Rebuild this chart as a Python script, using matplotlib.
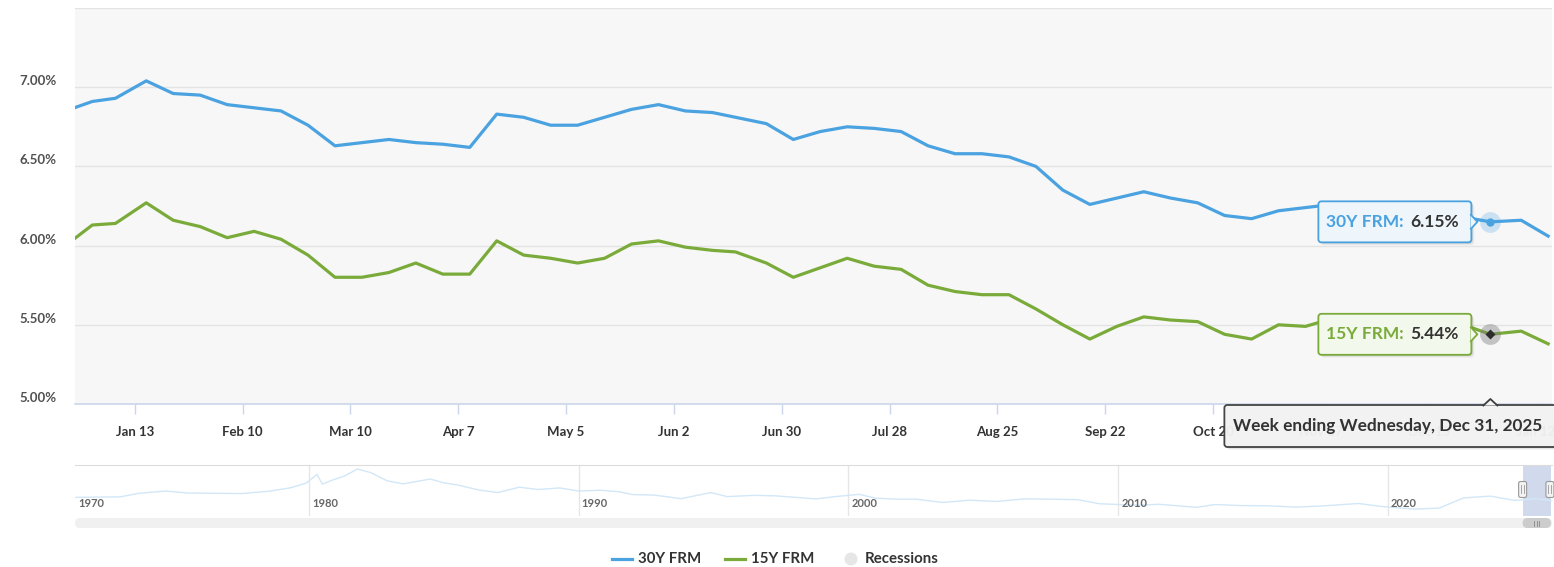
import numpy as np
import pandas as pd
import matplotlib
matplotlib.use("Agg")
import matplotlib.pyplot as plt
import matplotlib.dates as mdates
import matplotlib.transforms as mtransforms
from matplotlib.patches import FancyBboxPatch, Polygon, Circle
from matplotlib.lines import Line2D

plt.rcParams["font.family"] = ["Lato", "DejaVu Sans"]

# =========================
# Data (weekly PMMS rates, %)
# =========================
week_dates = pd.to_datetime([
    "2024-12-26",
    "2025-01-02", "2025-01-08", "2025-01-16", "2025-01-23", "2025-01-30",
    "2025-02-06", "2025-02-13", "2025-02-20", "2025-02-27",
    "2025-03-06", "2025-03-13", "2025-03-20", "2025-03-27",
    "2025-04-03", "2025-04-10", "2025-04-17", "2025-04-24",
    "2025-05-01", "2025-05-08", "2025-05-15", "2025-05-22", "2025-05-29",
    "2025-06-05", "2025-06-12", "2025-06-18", "2025-06-26",
    "2025-07-03", "2025-07-10", "2025-07-17", "2025-07-24", "2025-07-31",
    "2025-08-07", "2025-08-14", "2025-08-21", "2025-08-28",
    "2025-09-04", "2025-09-11", "2025-09-18", "2025-09-25",
    "2025-10-02", "2025-10-09", "2025-10-16", "2025-10-23", "2025-10-30",
    "2025-11-06", "2025-11-13", "2025-11-20", "2025-11-26",
    "2025-12-04", "2025-12-11", "2025-12-18", "2025-12-24", "2025-12-31",
    "2026-01-08", "2026-01-15",
])

rate_30y = [
    6.85,
    6.91, 6.93, 7.04, 6.96, 6.95,
    6.89, 6.87, 6.85, 6.76,
    6.63, 6.65, 6.67, 6.65,
    6.64, 6.62, 6.83, 6.81,
    6.76, 6.76, 6.81, 6.86, 6.89,
    6.85, 6.84, 6.81, 6.77,
    6.67, 6.72, 6.75, 6.74, 6.72,
    6.63, 6.58, 6.58, 6.56,
    6.50, 6.35, 6.26, 6.30,
    6.34, 6.30, 6.27, 6.19, 6.17,
    6.22, 6.24, 6.26, 6.23,
    6.19, 6.22, 6.21, 6.18, 6.15,
    6.16, 6.06,
]

rate_15y = [
    6.00,
    6.13, 6.14, 6.27, 6.16, 6.12,
    6.05, 6.09, 6.04, 5.94,
    5.80, 5.80, 5.83, 5.89,
    5.82, 5.82, 6.03, 5.94,
    5.92, 5.89, 5.92, 6.01, 6.03,
    5.99, 5.97, 5.96, 5.89,
    5.80, 5.86, 5.92, 5.87, 5.85,
    5.75, 5.71, 5.69, 5.69,
    5.60, 5.50, 5.41, 5.49,
    5.55, 5.53, 5.52, 5.44, 5.41,
    5.50, 5.49, 5.54, 5.51,
    5.44, 5.51, 5.47, 5.50, 5.44,
    5.46, 5.38,
]

tick_dates = pd.date_range("2025-01-13", periods=14, freq="28D")
y_ticks = [5.0, 5.5, 6.0, 6.5, 7.0, 7.5]
y_labels = ["5.00%", "5.50%", "6.00%", "6.50%", "7.00%", ""]

# long history of the 30Y rate for the navigator (approximate)
nav_years = [1971.3, 1972.0, 1973.0, 1973.7, 1974.7, 1975.5, 1976.5, 1977.5,
             1978.5, 1979.3, 1979.9, 1980.3, 1980.5, 1980.9, 1981.3, 1981.8,
             1982.3, 1982.9, 1983.5, 1984.5, 1985.0, 1985.5, 1986.3, 1987.0,
             1987.8, 1988.5, 1989.3, 1990.0, 1990.8, 1991.5, 1992.0, 1992.8,
             1993.8, 1994.9, 1995.5, 1996.5, 1997.3, 1998.8, 1999.5, 2000.4,
             2001.0, 2001.8, 2002.5, 2003.5, 2004.5, 2005.5, 2006.5, 2007.5,
             2008.5, 2009.3, 2010.8, 2011.5, 2012.9, 2013.6, 2014.5, 2015.5,
             2016.6, 2017.5, 2018.9, 2019.8, 2021.0, 2021.9, 2022.8, 2023.8,
             2024.7, 2025.5, 2026.04]
nav_rates = [7.3, 7.4, 7.5, 8.9, 9.8, 9.0, 8.9, 8.8,
             9.7, 11.0, 12.9, 16.3, 12.5, 14.2, 15.6, 18.4,
             17.0, 13.8, 12.6, 14.5, 13.0, 12.2, 10.2, 9.2,
             11.3, 10.4, 11.0, 9.8, 10.1, 9.5, 8.4, 8.2,
             6.8, 9.2, 7.6, 8.1, 7.9, 6.7, 7.6, 8.5,
             7.0, 6.6, 6.6, 5.3, 6.2, 5.7, 6.7, 6.6,
             6.4, 4.8, 4.2, 4.6, 3.4, 4.5, 4.1, 4.0,
             3.5, 3.9, 4.9, 3.7, 2.7, 3.1, 7.1, 7.8,
             6.1, 6.8, 6.06]
nav_decades = [1970, 1980, 1990, 2000, 2010, 2020]

tip_date = pd.Timestamp("2025-12-31")

BLUE = "#4aa2e0"
GREEN = "#7aab3a"
DARK = "#333333"

# =========================
# Figure / main axes
# =========================
W, H = 1554, 567
fig = plt.figure(figsize=(W / 100, H / 100), dpi=100)
ID = mtransforms.IdentityTransform()


def P(x, y):
    """pixel coords (top-left origin) -> display coords"""
    return x, H - y


ax = fig.add_axes([75 / W, 1 - 404 / H, 1477 / W, 396 / H])
ax.set_facecolor("#f7f7f7")
ax.plot(week_dates, rate_30y, color=BLUE, lw=2.3, solid_joinstyle="round", zorder=3)
ax.plot(week_dates, rate_15y, color=GREEN, lw=2.3, solid_joinstyle="round", zorder=3)

x_lo = pd.Timestamp("2024-12-28 12:00")
x_hi = pd.Timestamp("2026-01-16 00:00")
ax.set_xlim(x_lo, x_hi)
ax.set_ylim(5.0, 7.5)

for s in ["top", "left", "right"]:
    ax.spines[s].set_visible(False)
ax.spines["bottom"].set_color("#ccd6eb")
ax.spines["bottom"].set_linewidth(1.2)

ax.set_yticks(y_ticks)
ax.set_yticklabels(y_labels, fontsize=9.5, fontweight="bold", color="#505050")
ax.tick_params(axis="y", length=0, pad=13)
ax.grid(axis="y", color="#e3e3e3", lw=1)
ax.set_axisbelow(True)
up = mtransforms.ScaledTranslation(0, 7 / 100, fig.dpi_scale_trans)
for lbl in ax.get_yticklabels():
    lbl.set_transform(lbl.get_transform() + up)

ax.set_xticks(tick_dates)
ax.set_xticklabels([f"{d:%b} {d.day}" for d in tick_dates],
                   fontsize=9.5, fontweight="bold", color=DARK)
ax.tick_params(axis="x", length=7.5, width=1, color="#ccd6eb", pad=8)

# hover markers for the highlighted week
i_tip = list(week_dates).index(tip_date)
ax.plot([tip_date], [rate_30y[i_tip]], "o", ms=15, color=BLUE, alpha=0.25,
        mec="none", zorder=4)
ax.plot([tip_date], [rate_30y[i_tip]], "o", ms=6, color=BLUE, mec="none", zorder=5)
ax.plot([tip_date], [rate_15y[i_tip]], "o", ms=15, color="#777777", alpha=0.4,
        mec="none", zorder=4)
ax.plot([tip_date], [rate_15y[i_tip]], "D", ms=5, color="#2b2b2b", mec="none", zorder=5)

# =========================
# Navigator + scrollbar
# =========================
nav = fig.add_axes([75 / W, 1 - 516 / H, 1477 / W, 51 / H])
nav.set_facecolor("white")
nav.plot(nav_years, nav_rates, color="#d2e7f7", lw=1.0)
nav.set_xlim(1971.33, 2026.08)
nav.set_ylim(0, 20)
nav.set_xticks(nav_decades[1:])
nav.grid(axis="x", color="#e6e6e6", lw=1)
nav.tick_params(length=0, labelbottom=False, labelleft=False)
for s in ["left", "right", "bottom"]:
    nav.spines[s].set_visible(False)
nav.spines["top"].set_color("#dcdcdc")
blend = mtransforms.blended_transform_factory(nav.transData, nav.transAxes)
shift = mtransforms.ScaledTranslation(3 / 100, 0, fig.dpi_scale_trans)
for yr in nav_decades:
    nav.text(max(yr, nav.get_xlim()[0]), 0.24, str(yr), transform=blend + shift,
             fontsize=8, fontweight="bold", color="#666666", va="center", ha="left")


def frac_year(ts):
    return ts.year + (ts.dayofyear - 1) / 365.25


sel_lo, sel_hi = frac_year(x_lo), min(frac_year(x_hi), nav.get_xlim()[1])
nav.axvspan(sel_lo, sel_hi, color="#6685c2", alpha=0.3, lw=0)

fig.canvas.draw()
nav_bb = nav.get_window_extent()
hx0 = nav.transData.transform((sel_lo, 0))[0]
hx1 = nav.transData.transform((sel_hi, 0))[0]
hy = nav_bb.y0 + nav_bb.height * 0.52
for hx in [hx0, hx1 - 1]:
    fig.add_artist(FancyBboxPatch((hx - 4, hy - 8), 8, 16,
                                  boxstyle="round,pad=0,rounding_size=2",
                                  fc="#f2f2f2", ec="#999999", lw=0.8,
                                  transform=ID, zorder=6))
    for dx in (-1.5, 1.5):
        fig.add_artist(Line2D([hx + dx, hx + dx], [hy - 4, hy + 4], color="#999999",
                              lw=0.6, transform=ID, zorder=7))

# scrollbar
sx0, sy_top = P(75, 518)
fig.add_artist(FancyBboxPatch((sx0, sy_top - 10), 1477, 10,
                              boxstyle="round,pad=0,rounding_size=5",
                              fc="#f0f0f0", ec="none", transform=ID, zorder=5))
fig.add_artist(FancyBboxPatch((hx0, sy_top - 10), hx1 - hx0, 10,
                              boxstyle="round,pad=0,rounding_size=5",
                              fc="#cccccc", ec="none", transform=ID, zorder=6))
tcx = (hx0 + hx1) / 2
for dx in (-2.5, 0, 2.5):
    fig.add_artist(Line2D([tcx + dx, tcx + dx], [sy_top - 7.5, sy_top - 2.5],
                          color="#888888", lw=0.6, transform=ID, zorder=7))

# =========================
# Tooltips
# =========================
renderer = fig.canvas.get_renderer()


def callout(x0, y0, w, h, ec, fc, tip, base, zorder=8, alpha=1.0):
    # shadow
    for k, a in [(3, 0.04), (2, 0.06), (1, 0.08)]:
        fig.add_artist(FancyBboxPatch((x0 + k, y0 - k), w, h,
                                      boxstyle="round,pad=0,rounding_size=3",
                                      fc="black", ec="none", alpha=a,
                                      transform=ID, zorder=zorder - 0.5))
    fig.add_artist(FancyBboxPatch((x0, y0), w, h,
                                  boxstyle="round,pad=0,rounding_size=3",
                                  fc=fc, ec=ec, lw=1.3, alpha=alpha,
                                  transform=ID, zorder=zorder))
    tri = [base[0], tip, base[1]]
    fig.add_artist(Polygon(tri, closed=True, fc=fc, ec="none",
                           transform=ID, zorder=zorder + 0.1))
    fig.add_artist(Line2D([base[0][0], tip[0], base[1][0]],
                          [base[0][1], tip[1], base[1][1]],
                          color=ec, lw=1.3, transform=ID, zorder=zorder + 0.2))


def two_tone(x, y, first, second, c1, zorder):
    t1 = fig.text(x, y, first, transform=ID, fontsize=12.5, fontweight="bold",
                  color=c1, va="center", ha="left", zorder=zorder)
    w1 = t1.get_window_extent(renderer).width
    fig.text(x + w1 + 6, y, second, transform=ID, fontsize=12.5, fontweight="bold",
             color=DARK, va="center", ha="left", zorder=zorder)


for vals, name, col, fc in [(rate_30y, "30Y FRM:", BLUE, "#eef5fb"),
                            (rate_15y, "15Y FRM:", GREEN, "#f3f8ec")]:
    px, py = ax.transData.transform((mdates.date2num(tip_date), vals[i_tip]))
    bw, bh = 153, 41
    right = px - 19
    x0, y0 = right - bw, py - bh / 2
    callout(x0, y0, bw, bh, col, fc, tip=(right + 6, py),
            base=((right - 0.5, py + 7), (right - 0.5, py - 7)))
    two_tone(x0 + 8, py, name, f"{vals[i_tip]:.2f}%", col, 9)

# date tooltip under the axis
px, _ = ax.transData.transform((mdates.date2num(tip_date), 5.0))
ax_bottom = ax.get_window_extent().y0
dy_top = ax_bottom - 1
dw, dh = 334, 42
dx0 = px - 266
callout(dx0, dy_top - dh, dw, dh, "#3d3d3d", "#f4f4f4",
        tip=(px, dy_top + 6), base=((px - 7, dy_top - 0.5), (px + 7, dy_top - 0.5)),
        alpha=0.96)
fig.text(dx0 + 9, dy_top - dh / 2,
         f"Week ending {tip_date:%A, %b} {tip_date.day}, {tip_date.year}",
         transform=ID, fontsize=12.4, fontweight="bold", color=DARK,
         va="center", ha="left", zorder=9)

# =========================
# Legend
# =========================
ly = H - 559
legend_items = [("30Y FRM", BLUE, 612), ("15Y FRM", GREEN, 725)]
for label, col, lx in legend_items:
    fig.add_artist(Line2D([lx, lx + 20], [ly, ly], color=col, lw=2.3,
                          transform=ID, zorder=5))
    fig.text(lx + 26, ly, label, transform=ID, fontsize=10.8, fontweight="bold",
             color=DARK, va="center", ha="left")
fig.add_artist(Circle((851, ly), 6.5, fc="#e6e6e6", ec="none", transform=ID, zorder=5))
fig.text(865, ly, "Recessions", transform=ID, fontsize=10.8, fontweight="bold",
         color=DARK, va="center", ha="left")

fig.savefig("out.png", dpi=100)
plt.close(fig)
